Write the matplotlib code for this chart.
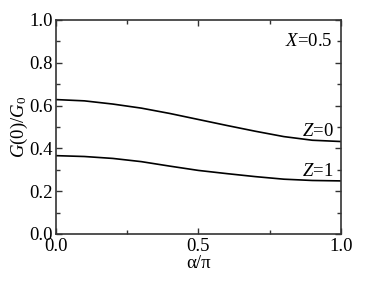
import matplotlib
matplotlib.use("Agg")
import matplotlib.pyplot as plt
from matplotlib.ticker import MultipleLocator, FormatStrFormatter

alpha = [0.0, 0.1, 0.2, 0.3, 0.4, 0.5, 0.6, 0.7, 0.8, 0.9, 1.0]
g_z0 = [0.628, 0.622, 0.607, 0.588, 0.563, 0.535, 0.507, 0.480, 0.455, 0.438, 0.432]
g_z1 = [0.366, 0.362, 0.353, 0.338, 0.317, 0.297, 0.282, 0.268, 0.256, 0.250, 0.248]

plt.rcParams['font.family'] = 'serif'
plt.rcParams['font.serif'] = ['Liberation Serif', 'DejaVu Serif']
plt.rcParams['mathtext.fontset'] = 'custom'
plt.rcParams['mathtext.rm'] = 'Liberation Serif'
plt.rcParams['mathtext.it'] = 'Liberation Serif:italic'

fs = 13.5
fig = plt.figure(figsize=(3.8, 2.85), dpi=100)
ax = fig.add_axes([0.147, 0.179, 0.750, 0.751])

ax.plot(alpha, g_z0, color='black', lw=1.2)
ax.plot(alpha, g_z1, color='black', lw=1.2)

ax.set_xlim(0, 1)
ax.set_ylim(0, 1)
ax.xaxis.set_major_locator(MultipleLocator(0.5))
ax.xaxis.set_minor_locator(MultipleLocator(0.25))
ax.yaxis.set_major_locator(MultipleLocator(0.2))
ax.yaxis.set_minor_locator(MultipleLocator(0.1))
ax.tick_params(which='both', direction='in', top=True, right=True, labelsize=fs, color='#333333')
ax.tick_params(which='major', length=4, width=1)
ax.tick_params(which='minor', length=3, width=1)
ax.tick_params(axis='x', pad=3)
ax.tick_params(axis='y', pad=2)
ax.xaxis.set_major_formatter(FormatStrFormatter('%.1f'))
ax.yaxis.set_major_formatter(FormatStrFormatter('%.1f'))
for s in ax.spines.values():
    s.set_linewidth(1.2)
    s.set_color('#333333')

ax.set_xlabel('α/π', fontsize=fs, labelpad=0)
ax.set_ylabel(r'$G$(0)/$G_0$', fontsize=fs, labelpad=0)

ax.text(0.97, 0.90, r'$X$=0.5', transform=ax.transAxes, ha='right', va='center', fontsize=fs)
ax.text(0.975, 0.48, r'$Z$=0', transform=ax.transAxes, ha='right', va='center', fontsize=fs)
ax.text(0.975, 0.29, r'$Z$=1', transform=ax.transAxes, ha='right', va='center', fontsize=fs)

fig.savefig('out.png', dpi=100)
